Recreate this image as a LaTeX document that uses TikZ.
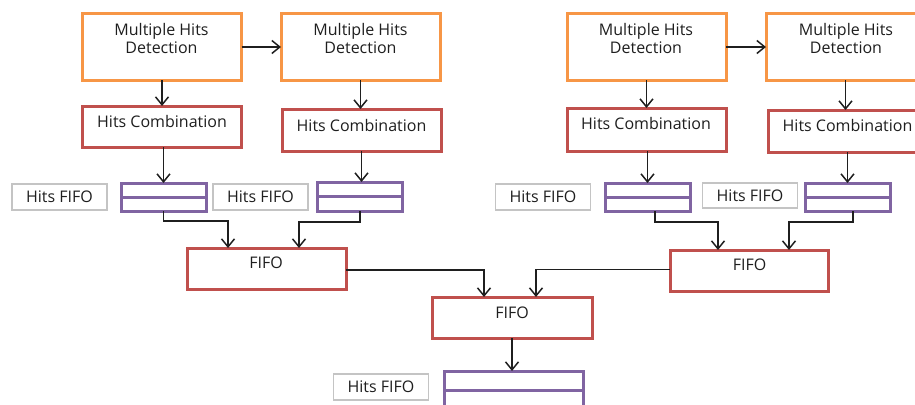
\documentclass[tikz,border=0pt]{standalone}
\usepackage{fontspec}
\setmainfont{Open Sans}
\usetikzlibrary{arrows.meta,calc}

\definecolor{detorange}{HTML}{F79646}
\definecolor{fifored}{HTML}{C0504D}
\definecolor{qpurple}{HTML}{8064A2}
\definecolor{taggray}{HTML}{C4C4C4}
\definecolor{txtgray}{HTML}{1E1E1E}

\begin{document}
\begin{tikzpicture}[x=1pt,y=-1pt,
  every node/.style={inner sep=0pt, outer sep=0pt},
  detbox/.style={draw=detorange, line width=3pt, minimum width=159pt, minimum height=66pt},
  redbox/.style={draw=fifored, line width=3pt, minimum width=159pt, minimum height=42pt},
  qbox/.style={draw=qpurple, line width=3pt, minimum width=85pt, minimum height=28pt},
  qline/.style={draw=qpurple, line width=3pt},
  tag/.style={draw=taggray, line width=1.5pt, minimum width=95pt, minimum height=26pt,
              font=\fontsize{16}{18}\selectfont, text=txtgray},
  txt/.style={font=\fontsize{16}{18}\selectfont, text=txtgray, align=center},
  arr/.style={draw=black!88, line width=1.5pt, -{Straight Barb[length=8pt,width=13pt]}}]

\useasboundingbox (0,0) rectangle (915,404);
\clip (0,0) rectangle (915,404);

% ---- detection stages ----
\node[detbox] (mhd1) at (162,47) {};
\node[detbox] (mhd2) at (360.5,47) {};
\node[detbox] (mhd3) at (646.5,47) {};
\node[detbox] (mhd4) at (845.5,47) {};
\node[txt] (mhd1t) at (161.5,38.6) {Multiple Hits\\Detection};
\node[txt] (mhd2t) at (360.5,38.6) {Multiple Hits\\Detection};
\node[txt] (mhd3t) at (646,38.6) {Multiple Hits\\Detection};
\node[txt] (mhd4t) at (846,38.6) {Multiple Hits\\Detection};

% ---- combination stages ----
\node[redbox, minimum height=41pt] (hc1) at (162,126.5) {};
\node[redbox] (hc2) at (361.5,130) {};
\node[redbox, minimum height=43pt] (hc3) at (646.5,129.5) {};
\node[redbox] (hc4) at (847.5,131) {};
\node[txt, anchor=base] (hc1t) at (162,127.5) {Hits Combination};
\node[txt, anchor=base] (hc2t) at (361.5,131) {Hits Combination};
\node[txt, anchor=base] (hc3t) at (646,129) {Hits Combination};
\node[txt, anchor=base] (hc4t) at (847.5,131.5) {Hits Combination};

% ---- hit queues ----
\node[tag] (tag1) at (59.5,197) {Hits FIFO};
\node[tag] (tag2) at (260.5,197) {Hits FIFO};
\node[tag] (tag3) at (543,197) {Hits FIFO};
\node[tag, minimum height=25pt] (tag4) at (750,195.5) {Hits FIFO};
\node[tag] (tagB) at (381,387) {Hits FIFO};

\node[qbox] (fq1) at (163.5,197) {};
\node[qbox, minimum height=29pt] (fq2) at (360,196.5) {};
\node[qbox] (fq3) at (647.5,197) {};
\node[qbox] (fq4) at (847.5,197) {};
\node[qbox, minimum width=139pt, minimum height=38pt] (fqB) at (513.5,390) {};
\foreach \q in {fq1,fq2,fq3,fq4,fqB}
  \draw[qline] (\q.west) -- (\q.east);

% ---- merging FIFOs ----
\node[redbox, minimum height=41pt] (fifoL) at (266.5,268.5) {};
\node[redbox, minimum width=158pt, minimum height=41pt] (fifoR) at (749,270.5) {};
\node[redbox, minimum width=160pt, minimum height=41pt] (fifoC) at (512,317.5) {};
\node[txt, anchor=base] (fifoLt) at (266,268.5) {FIFO};
\node[txt, anchor=base] (fifoRt) at (749.5,270.5) {FIFO};
\node[txt, anchor=base] (fifoCt) at (512,318.5) {FIFO};

% ---- connectors ----
\draw[arr] (mhd1.east) -- (mhd2.west);
\draw[arr] (mhd3.east) -- (mhd4.west);

\draw[arr] (mhd1.south) -- (mhd1.south |- hc1.north);
\draw[arr] (mhd2.south) -- (mhd2.south |- hc2.north);
\draw[arr] (mhd3.south) -- (mhd3.south |- hc3.north);
\draw[arr] (mhd4.south) -- (mhd4.south |- hc4.north);

\draw[arr] (hc1.south -| fq1.north) -- (fq1.north);
\draw[arr] (hc2.south) -- (hc2.south |- fq2.north);
\draw[arr] (hc3.south -| fq3.north) -- (fq3.north);
\draw[arr] (hc4.south -| fq4.north) -- (fq4.north);

\draw[arr] (fq1.south) -- ++(0,10) -| ($(fifoL.north west)+(41,0)$);
\draw[arr] (fq2.south) -- ++(0,11) -| ($(fifoL.north west)+(112,0)$);
\draw[arr] ($(fq3.south)+(7.5,0)$) -- ++(0,11) -| ($(fifoR.north west)+(48,0)$);
\draw[arr] ($(fq4.south)+(5.5,0)$) -- ++(0,11) -| ($(fifoR.north west)+(119,0)$);

\draw[arr] ($(fifoL.east)+(0,1.5)$) -| ($(fifoC.north west)+(52,0)$);
\draw[arr] ($(fifoR.west)+(0,-1)$) -| ($(fifoC.north west)+(104,0)$);

\draw[arr] (fifoC.south) -- (fifoC.south |- fqB.north);
\end{tikzpicture}
\end{document}
